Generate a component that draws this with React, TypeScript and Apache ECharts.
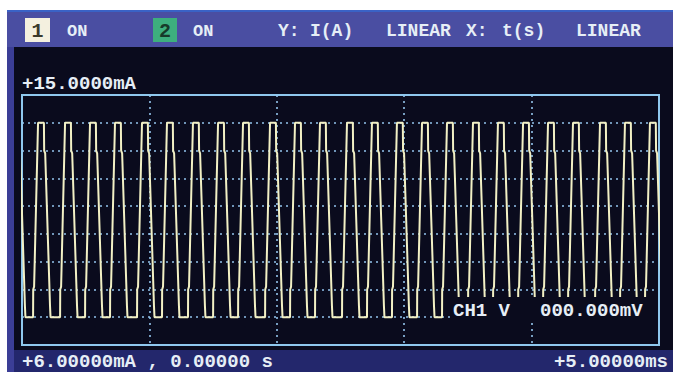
import React, { useEffect, useRef } from "react";
import * as echarts from "echarts";

// axis ranges (time in ms, current in mA)
const xMin = 0;
const xMax = 5;
const xStep = 1;
const yMin = 6;
const yMax = 15;
const yStep = 1;

// times (ms) at which each pulse reaches its top
const pulseTopStarts = [
  -0.071, 0.126, 0.338, 0.534, 0.73, 0.942, 1.138, 1.342, 1.539, 1.735, 1.947,
  2.143, 2.339, 2.551, 2.747, 2.943, 3.14, 3.336, 3.54, 3.736, 3.933, 4.129,
  4.325, 4.537, 4.733, 4.929,
];
// shape of one pulse: time offsets (ms) from its top start and current (mA)
const pulseOffsets = [-0.039, -0.038, -0.031, 0, 0.046, 0.048, 0.056, 0.094, 0.098];
const pulseLevels = [7.0, 8.0, 8.1, 14.0, 14.0, 13.0, 12.9, 7.4, 7.0];

// texts on the screen
const topLabel = "+15.0000mA";
const bottomLeftLabel = "+6.00000mA , 0.00000 s";
const bottomRightLabel = "+5.00000ms";
const channelLabel = "CH1 V";
const channelValue = "000.000mV";

const FONT = '"Liberation Mono", "DejaVu Sans Mono", monospace';

export default function App() {
  const ref = useRef<HTMLDivElement>(null);

  useEffect(() => {
    if (!ref.current) return;
    const chart = echarts.init(ref.current, undefined, { renderer: "svg" });

    const data: [number, number][] = [];
    pulseTopStarts.forEach((s) => {
      pulseOffsets.forEach((o, i) => {
        data.push([+(s + o).toFixed(4), pulseLevels[i]]);
      });
    });

    const txt = (
      text: string,
      x: number,
      y: number,
      size: number,
      fill: string,
      align: string = "left"
    ) => ({
      type: "text",
      x,
      y,
      z: 200,
      silent: true,
      style: {
        text,
        fill,
        font: `bold ${size}px ${FONT}`,
        textAlign: align,
        textVerticalAlign: "middle",
        verticalAlign: "middle",
      },
    });

    const rect = (x: number, y: number, w: number, h: number, fill: string, z = -100) => ({
      type: "rect",
      z,
      silent: true,
      shape: { x, y, width: w, height: h },
      style: { fill },
    });

    const gridLine = {
      show: true,
      lineStyle: { color: "#93c3ec", type: [2, 4], width: 1.6 },
    };

    const textColor = "#e6eef6";

    chart.setOption({
      animation: false,
      backgroundColor: "transparent",
      grid: {
        left: 22,
        top: 95,
        width: 637,
        height: 250,
        show: true,
        borderColor: "#8fc8ee",
        borderWidth: 2,
        backgroundColor: "transparent",
        z: 3,
      },
      xAxis: {
        type: "value",
        min: xMin,
        max: xMax,
        interval: xStep,
        axisLine: { show: false },
        axisTick: { show: false },
        axisLabel: { show: false },
        splitLine: gridLine,
      },
      yAxis: {
        type: "value",
        min: yMin,
        max: yMax,
        interval: yStep,
        axisLine: { show: false },
        axisTick: { show: false },
        axisLabel: { show: false },
        splitLine: gridLine,
      },
      series: [
        {
          type: "line",
          data,
          showSymbol: false,
          symbol: "none",
          clip: true,
          z: 5,
          lineStyle: { color: "#f2f0c4", width: 2 },
        },
      ],
      graphic: {
        elements: [
          rect(0, 0, 673, 372, "#ffffff", -100),
          rect(7, 10, 666, 37, "#4a4ea2", -99),
          rect(7, 10, 666, 2, "#3a62c6", -98),
          rect(7, 47, 7, 325, "#3b3e96", -99),
          rect(14, 47, 659, 303, "#0a0b1d", -99),
          rect(14, 350, 659, 22, "#23276c", -99),
          // cream and green channel boxes
          rect(25, 18, 25, 24, "#f4f0df", 100),
          rect(153, 18, 24, 24, "#3daf7e", 100),
          txt("1", 37.5, 31, 20, "#3a3a2c", "center"),
          txt("ON", 67, 31, 17, textColor),
          txt("2", 165, 31, 20, "#173a2a", "center"),
          txt("ON", 193, 31, 17, textColor),
          txt("Y:", 278, 31, 18, textColor),
          txt("I(A)", 310, 31, 18, textColor),
          txt("LINEAR", 386, 31, 18, textColor),
          txt("X:", 466, 31, 18, textColor),
          txt("t(s)", 502, 31, 18, textColor),
          txt("LINEAR", 576, 31, 18, textColor),
          // plot labels
          txt(topLabel, 22, 84, 19, textColor),
          rect(450, 297, 206, 25, "#0a0b1d", 150),
          txt(channelLabel, 453, 311, 19, textColor),
          txt(channelValue, 540, 311, 19, textColor),
          txt(bottomLeftLabel, 22, 362, 19, textColor),
          txt(bottomRightLabel, 668, 362, 19, textColor, "right"),
        ],
      },
    });

    return () => chart.dispose();
  }, []);

  return (
    <div
      ref={ref}
      style={{ position: "absolute", left: 0, top: 0, width: 673, height: 372 }}
    />
  );
}
